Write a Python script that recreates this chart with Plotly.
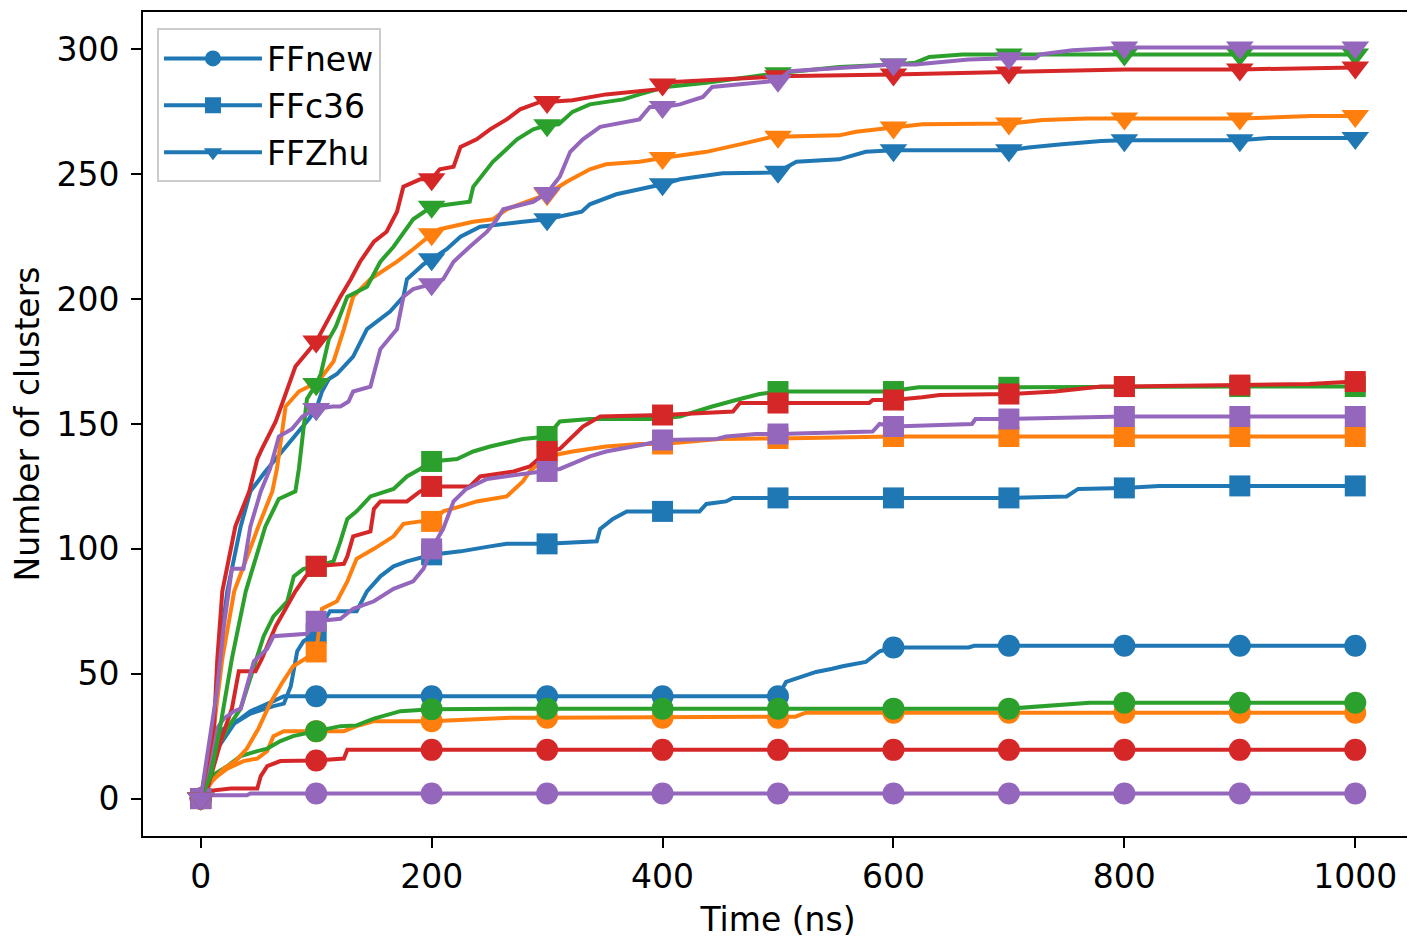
import plotly.graph_objects as go

# ---------------- data ----------------
# FFnew (circles)
new_blue_t = [0, 8.6, 11.5, 20, 34.6, 43, 63, 72, 100, 200, 300, 400, 500, 507, 516, 533, 547, 556, 576, 582, 588, 600, 665, 670, 700, 800, 900, 1000]
new_blue_v = [0, 13, 21, 28, 32, 35, 39, 41, 41, 41, 41, 41, 41, 46.7, 48, 50.7, 52, 53, 54.7, 56.7, 59, 60.5, 60.5, 61.2, 61.2, 61.2, 61.2, 61.2]

new_orange_t = [0, 8.6, 23, 37, 49, 57.6, 63, 72, 100, 124, 135, 150, 200, 270, 300, 400, 500, 515, 524, 600, 700, 800, 900, 1000]
new_orange_v = [0, 7, 12, 15, 16, 19, 25, 27, 27, 27, 29, 31, 31, 32.4, 32.4, 32.4, 32.4, 32.8, 34.4, 34.4, 34.4, 34.4, 34.4, 34.4]

new_green_t = [0, 5.8, 23, 34.6, 49, 57.6, 69, 80, 100, 121, 135, 150, 173, 200, 300, 400, 500, 600, 700, 770, 800, 900, 1000]
new_green_v = [0, 8, 13, 17, 19, 20, 23, 25, 27, 29, 29.3, 32, 35, 35.8, 36, 36, 36, 36, 36, 38.4, 38.4, 38.4, 38.4]

new_red_t = [0, 5.8, 26, 49, 52, 57.6, 69, 100, 124, 127, 200, 300, 400, 500, 600, 700, 800, 900, 1000]
new_red_v = [0, 3, 4, 4, 9, 13, 15, 15.2, 16, 19.5, 19.5, 19.5, 19.5, 19.5, 19.5, 19.5, 19.5, 19.5, 19.5]

new_purple_t = [0, 10, 40, 43, 100, 200, 300, 400, 500, 600, 700, 800, 900, 1000]
new_purple_v = [0, 1.3, 1.3, 2, 2, 2, 2, 2, 2, 2, 2, 2, 2, 2]

# FFc36 (squares)
c36_blue_t = [0, 11.5, 29, 43, 63, 72, 78, 83.6, 89, 100, 112, 135, 144, 155.6, 167, 178.6, 200, 225, 250.6, 265, 300, 343, 346, 357, 369, 400, 432, 438, 455, 461, 500, 600, 700, 750, 760, 800, 830, 900, 1000]
c36_blue_v = [0, 18, 30, 34, 37, 38, 45, 59, 63, 66, 75, 75, 83, 89, 93, 95, 97.6, 99, 101, 102, 102, 103, 108, 112, 115, 115, 115, 118, 119, 120.4, 120.4, 120.4, 120.4, 121, 124, 124.4, 125.2, 125.2, 125.2]

c36_orange_t = [0, 10, 20, 30, 40, 50, 60, 70, 80, 90, 100, 105, 118, 127, 135, 150, 167, 175.6, 190, 200, 210, 225, 239, 265, 279, 285, 300, 322, 351, 380, 400, 449, 500, 600, 700, 800, 900, 1000]
c36_orange_v = [0, 7, 12, 15, 20, 28, 38, 46, 53, 56, 58.7, 76, 79, 87, 96, 100, 105, 110, 111, 111, 115, 117, 119, 121, 127, 131, 137, 139, 141, 142, 142, 144, 144.2, 145, 145, 145, 145, 145]

c36_green_t = [0, 5.8, 12, 23, 34.6, 46, 54.5, 63, 75, 80.6, 89, 100, 115, 121, 127, 135, 147, 167, 178.6, 190, 200, 222, 236, 250.6, 279, 300, 311, 337, 391, 415, 443, 467, 484, 500, 600, 611, 622, 700, 800, 900, 1000]
c36_green_v = [0, 10, 18, 28, 36, 53, 65, 73, 79, 89, 92, 93, 95, 103, 112, 115, 121, 124, 129, 132, 135, 136, 139, 141, 144, 145, 151, 152, 152, 153, 157, 160, 162, 163, 163, 164, 164.7, 164.7, 165, 165, 165]

c36_red_t = [0, 5.8, 18.7, 27, 33, 47.5, 53, 65, 73.5, 82, 91, 100, 124, 127, 132, 147, 150, 155.6, 178.6, 190, 200, 233, 242, 271, 285, 300, 311, 322, 331, 346, 400, 461, 467, 500, 579, 582, 600, 625, 640, 700, 740, 780, 800, 900, 960, 1000]
c36_red_v = [0, 4, 25, 36, 51, 51, 56, 69, 76, 83, 89, 93, 94, 97, 105, 107, 116, 119, 119, 123, 125, 125, 129, 131, 133, 139, 140, 145, 149, 153, 153.6, 155, 158.4, 158.4, 158.4, 159.6, 159.6, 160.7, 161.6, 162, 163, 165, 165, 165.6, 166, 167]

c36_purple_t = [0, 14, 20, 29, 34.6, 40, 46, 57.6, 63, 92, 100, 121, 132, 150, 167, 184, 193, 200, 210, 219, 230, 248, 265, 300, 311, 337, 351, 386, 400, 447, 455, 481, 500, 582, 588, 600, 668, 671, 700, 800, 900, 1000]
c36_purple_v = [0, 28, 32, 35, 36, 45, 55, 60, 65, 66, 71, 72, 76, 79, 84, 87, 92, 100, 108, 119, 124, 128, 129, 131, 132, 137, 139, 142, 143.6, 144, 145, 146, 146, 147, 150, 149, 150, 152, 152, 153, 153, 153]

# FFZhu (down triangles)
zhu_blue_t = [0, 11.5, 15.5, 23, 34.6, 43, 56, 67, 79, 93.7, 100, 105, 111, 118, 132, 144, 164, 175.6, 178.6, 193, 200, 213, 225, 242, 279, 300, 330, 337, 360, 380, 400, 415, 452, 495, 500, 516, 553, 576, 600, 700, 717, 746, 780, 800, 900, 925, 1000]
zhu_blue_v = [0, 29, 56, 83, 109, 123, 131, 137, 144, 152, 156, 163, 168, 170, 177, 188, 195, 201, 208, 214, 216, 220, 225, 229, 231, 232, 235, 238, 242, 244, 246, 248, 250.4, 250.7, 251, 255, 256, 259, 259.6, 259.6, 260.7, 262, 263.3, 263.6, 263.6, 264.5, 264.5]

zhu_orange_t = [0, 11.5, 18.7, 29, 50, 62, 66, 73.5, 85, 93.5, 100, 115, 124, 132, 147, 170, 184, 200, 207, 236, 253, 265, 282, 300, 317, 337, 351, 380, 400, 438, 467, 495, 500, 553, 567.6, 596, 600, 625, 700, 729, 768, 800, 900, 962, 1000]
zhu_orange_v = [0, 29, 56, 83, 109, 123, 132, 157, 163, 165, 166, 175, 188, 201, 208, 215, 220, 226, 228, 231, 232, 236, 239, 242, 247, 252, 254, 255, 256.5, 259, 262, 265, 265, 265.6, 267, 268.7, 268.7, 270, 270.3, 271.7, 272.3, 272.3, 272.3, 273.3, 273.3]

zhu_green_t = [0, 8.6, 17, 27, 39, 56, 67.6, 82, 85, 92, 100, 104, 111, 117, 127, 144, 155.6, 167, 184, 200, 233, 236, 253, 274, 288, 300, 310, 322, 337, 366, 380, 403, 438, 472, 500, 510, 553, 600, 619, 631, 660, 700, 800, 900, 1000]
zhu_green_v = [0, 9, 29, 56, 83, 109, 120, 123, 132, 160, 166, 170, 184, 189, 201, 205, 215, 221, 232, 237, 239, 245, 255, 264, 268, 269.6, 270, 275, 278, 280, 282, 285, 286.7, 289, 290.5, 291, 293, 294, 294.7, 297, 298, 298, 298, 298, 298]

zhu_red_t = [0, 1.5, 11.5, 14.4, 18.7, 30, 42, 49, 53, 65, 75, 82, 100, 109, 121, 130, 138, 150, 161, 170, 175.5, 190, 200, 207, 219, 225, 239, 250.6, 265, 276.6, 294, 300, 322, 351, 395, 400, 409, 495, 500, 600, 668, 700, 801, 900, 974, 1000]
zhu_red_v = [0, 4, 29, 56, 83, 109, 123, 136, 140, 151, 164, 173, 183, 191, 201, 208, 215, 223, 227, 235, 245, 248, 248, 252, 253, 261, 264, 268, 272, 276, 279, 279, 279.7, 282, 284, 286, 287, 289, 289.3, 290, 290.7, 290.8, 292, 292, 292.8, 292.8]

zhu_purple_t = [0, 10, 14, 20, 27, 37, 43, 52, 60, 67.7, 79, 88, 100, 114, 121, 128, 132, 147, 150, 155.6, 170, 175.6, 184, 200, 210, 219, 233, 248, 256.5, 262, 288, 300, 311, 320, 331, 346, 380, 389, 400, 415, 435, 443, 481, 500, 510, 553, 600, 619, 665, 700, 723, 727, 755, 792, 800, 900, 1000]
zhu_purple_v = [0, 29, 43, 69, 92, 92, 109, 123, 132, 145, 148, 153, 156, 157, 157, 159, 163, 165, 170, 180, 188, 201, 204, 206, 208, 215, 221, 227, 232, 236, 239, 242.5, 249, 259, 264, 269, 272, 277, 277, 278, 281, 285, 286.7, 287.5, 291.3, 292.7, 294, 294, 296, 296.5, 296.5, 298, 299.7, 300.6, 300.8, 300.8, 300.8]

ff_names = ["FFnew", "FFc36", "FFZhu"]
x_ticks = [0, 200, 400, 600, 800, 1000]
y_ticks = [0, 50, 100, 150, 200, 250, 300]

# ---------------- styling ----------------
colors = {"blue": "#1f77b4", "orange": "#ff7f0e", "green": "#2ca02c",
          "red": "#d62728", "purple": "#9467bd"}
symbols = {"FFnew": "circle", "FFc36": "square", "FFZhu": "triangle-down"}
msize = {"FFnew": 22, "FFc36": 21, "FFZhu": 24}

series = {
    "FFnew": [("blue", new_blue_t, new_blue_v), ("orange", new_orange_t, new_orange_v),
              ("green", new_green_t, new_green_v), ("red", new_red_t, new_red_v),
              ("purple", new_purple_t, new_purple_v)],
    "FFc36": [("blue", c36_blue_t, c36_blue_v), ("orange", c36_orange_t, c36_orange_v),
              ("green", c36_green_t, c36_green_v), ("red", c36_red_t, c36_red_v),
              ("purple", c36_purple_t, c36_purple_v)],
    "FFZhu": [("blue", zhu_blue_t, zhu_blue_v), ("orange", zhu_orange_t, zhu_orange_v),
              ("green", zhu_green_t, zhu_green_v), ("red", zhu_red_t, zhu_red_v),
              ("purple", zhu_purple_t, zhu_purple_v)],
}

fig = go.Figure()
for ff in ff_names:
    for cname, t, v in series[ff]:
        sizes = [msize[ff] if (tt % 100 == 0) else 0 for tt in t]
        fig.add_trace(go.Scatter(
            x=t, y=v, mode="lines+markers",
            line=dict(color=colors[cname], width=4),
            marker=dict(symbol=symbols[ff], size=sizes, color=colors[cname],
                        opacity=1, line=dict(width=0)),
            showlegend=False, hoverinfo="skip"))

# legend entries (blue, as in the reference)
for ff in ff_names:
    fig.add_trace(go.Scatter(
        x=[None], y=[None], mode="lines+markers", name=ff,
        legendgroup=ff,
        line=dict(color=colors["blue"], width=4),
        marker=dict(symbol=symbols[ff], size=msize[ff], color=colors["blue"], opacity=1)))

font_family = "DejaVu Sans"
fig.update_layout(
    width=1415, height=940,
    margin=dict(l=135, r=10, t=4, b=112),
    paper_bgcolor="white", plot_bgcolor="white",
    font=dict(family=font_family, size=33, color="black"),
    legend=dict(x=0.011, y=0.98, xanchor="left", yanchor="top",
                bgcolor="rgba(255,255,255,0.8)", bordercolor="#cccccc", borderwidth=2,
                font=dict(family=font_family, size=33, color="black"),
                itemwidth=98, traceorder="grouped", tracegroupgap=1,
                itemsizing="trace"),
    showlegend=True,
)
fig.update_xaxes(
    range=[-50, 1050], tickvals=x_ticks, ticktext=[str(x) for x in x_ticks],
    showgrid=False, zeroline=False, showline=True, mirror=True, automargin=False,
    linecolor="black", linewidth=2, ticks="outside", ticklen=10, tickwidth=2,
    tickcolor="black", tickfont=dict(family=font_family, size=33, color="black"),
    title=dict(text="Time (ns)", standoff=13,
               font=dict(family=font_family, size=33, color="black")))
fig.update_yaxes(
    range=[-15, 315], tickvals=y_ticks, ticktext=[str(y) for y in y_ticks],
    showgrid=False, zeroline=False, showline=True, mirror=True, automargin=False,
    linecolor="black", linewidth=2, ticks="outside", ticklen=10, tickwidth=2,
    tickcolor="black", tickfont=dict(family=font_family, size=33, color="black"),
    ticklabelstandoff=5,
    title=dict(text="Number of clusters", standoff=14,
               font=dict(family=font_family, size=33, color="black")))

fig.write_html("out.html")
